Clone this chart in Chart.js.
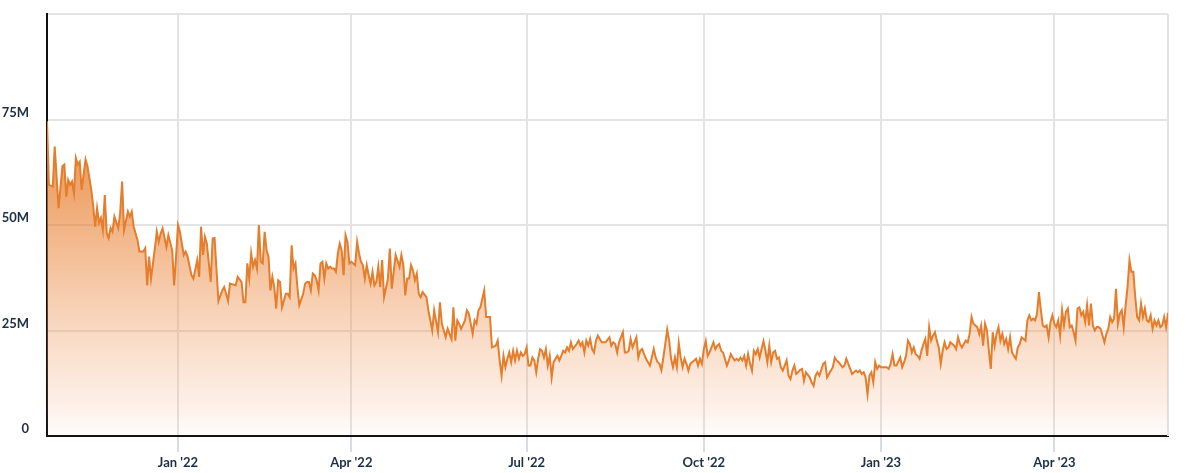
<!DOCTYPE html>
<html>
<head>
<meta charset="utf-8">
<title>Daily volume</title>
<script src="https://cdn.jsdelivr.net/npm/chart.js@4/dist/chart.umd.min.js"></script>
<style>
  html, body { margin: 0; padding: 0; background: #fff; }
  .chart-box { width: 1200px; height: 473px; position: relative; }
</style>
</head>
<body>
<div class="chart-box"><canvas id="volumeChart"></canvas></div>
<script>
// day offsets counted from startDate, values in millions
const startDate = '2022-01-01';
const dayOffsets = [
  -68, -67, -65, -64, -62, -60, -59, -58, -57, -56, -55, -54, -53, -52, -51, -50, -48, -47, -45, -44,
  -43, -42, -41, -40, -39, -38, -37, -36, -35, -34, -33, -31, -30, -29, -28, -26, -25, -24, -23, -21,
  -20, -18, -17, -16, -15, -14, -12, -11, -10, -9, -8, -6, -5, -3, -2, -1, 0, 1, 3, 4,
  5, 7, 8, 10, 11, 12, 13, 14, 15, 17, 18, 19, 21, 23, 24, 26, 27, 30, 31, 33,
  34, 35, 36, 37, 38, 39, 40, 41, 42, 43, 44, 45, 46, 47, 48, 49, 50, 51, 52, 53,
  54, 56, 57, 58, 59, 60, 61, 62, 63, 65, 66, 67, 68, 69, 70, 71, 72, 73, 74, 75,
  76, 77, 78, 79, 80, 81, 82, 83, 84, 85, 86, 87, 88, 89, 90, 91, 92, 93, 94, 95,
  96, 97, 98, 99, 100, 101, 102, 103, 104, 105, 106, 107, 109, 110, 111, 112, 113, 115, 116, 117,
  118, 119, 120, 121, 122, 123, 124, 125, 126, 127, 129, 130, 132, 133, 135, 136, 137, 139, 140, 142,
  143, 144, 145, 146, 147, 149, 150, 151, 153, 154, 155, 156, 157, 159, 160, 162, 163, 165, 166, 167,
  168, 169, 170, 171, 172, 173, 174, 175, 176, 177, 178, 179, 180, 181, 182, 183, 184, 185, 186, 187,
  188, 189, 190, 191, 192, 193, 194, 195, 197, 198, 199, 200, 201, 202, 203, 204, 205, 207, 208, 209,
  210, 211, 212, 213, 214, 215, 216, 217, 218, 219, 220, 222, 224, 225, 226, 227, 228, 229, 231, 232,
  233, 234, 235, 236, 237, 238, 239, 240, 241, 242, 243, 245, 246, 247, 248, 249, 250, 251, 252, 253,
  254, 255, 256, 257, 258, 259, 260, 261, 262, 263, 264, 265, 266, 268, 269, 270, 271, 272, 273, 274,
  275, 276, 277, 278, 279, 280, 281, 282, 283, 285, 286, 287, 288, 289, 290, 291, 292, 293, 294, 295,
  296, 297, 298, 299, 300, 301, 302, 303, 304, 305, 306, 307, 308, 309, 310, 311, 312, 313, 314, 316,
  317, 318, 319, 320, 321, 322, 323, 324, 325, 326, 328, 329, 330, 331, 332, 333, 335, 336, 337, 338,
  339, 340, 341, 342, 343, 345, 346, 347, 348, 349, 350, 352, 353, 354, 355, 356, 357, 358, 359, 360,
  361, 362, 363, 364, 365, 367, 368, 369, 370, 371, 372, 373, 375, 376, 377, 378, 379, 380, 381, 382,
  383, 384, 385, 386, 387, 388, 389, 390, 391, 392, 393, 394, 395, 396, 397, 398, 399, 400, 401, 403,
  404, 405, 406, 407, 408, 409, 410, 411, 412, 413, 414, 415, 416, 417, 418, 419, 420, 421, 422, 423,
  424, 425, 426, 427, 428, 429, 430, 431, 432, 433, 434, 435, 436, 437, 438, 439, 440, 441, 442, 443,
  444, 445, 446, 447, 448, 449, 450, 451, 452, 453, 454, 455, 456, 457, 458, 459, 460, 461, 462, 463,
  464, 465, 466, 467, 468, 469, 470, 471, 472, 473, 474, 475, 476, 477, 478, 479, 480, 481, 482, 483,
  484, 485, 486, 487, 488, 489, 490, 491, 492, 493, 494, 495, 496, 497, 498, 499, 500, 501, 502, 503,
  504, 505, 506, 507, 508, 509, 510, 511, 512, 513, 514
];
const valuesM = [
  74.6, 59.5, 59.1, 68.6, 54, 63.9, 64.3, 56.7, 60.7, 59.5, 60.3, 57.5, 65.9, 64.3, 65, 58.3, 65.5, 63.9, 58.3, 54.4,
  49.6, 54, 50.5, 51.7, 48.8, 57.1, 48.1, 46.9, 49.3, 48.4, 52, 49.3, 52.9, 60.3, 48.8, 53.2, 52, 53.2, 49.6, 46.4,
  43.7, 43.7, 44.5, 35.7, 42.5, 37.3, 44.4, 48.4, 46, 48, 49.2, 44.8, 47.6, 44, 35.7, 42.5, 50, 48.4, 42.9, 43.7,
  42.5, 38.1, 37.3, 41.7, 37.7, 49.6, 42.9, 47.2, 45.6, 36.5, 46.8, 46.9, 32, 34.5, 35.3, 32, 36.1, 35.7, 37.7, 36.5,
  31.7, 31.7, 40.9, 37.3, 43.3, 40.1, 41.7, 39.7, 50, 41.3, 40.9, 48.4, 44, 42.5, 34.5, 37.7, 35.3, 30.2, 36.9, 36.5,
  30.5, 33.7, 33.7, 32.9, 45.2, 39.7, 40.9, 35.3, 31, 33.7, 36.1, 36.5, 36.5, 34.5, 38.5, 38.1, 36.9, 34.5, 40.9, 41.3,
  37.3, 40.9, 39.7, 40.1, 39.7, 39.7, 38.9, 43.3, 45.6, 44, 38.1, 47.6, 46, 40.9, 41.3, 40.9, 40.5, 46, 43.3, 41.3,
  40.5, 37.3, 40.5, 38.1, 36.1, 38.9, 35.7, 36.5, 40.1, 35.3, 41.7, 32.9, 37.3, 44.4, 34.9, 38.9, 42.9, 40.1, 42.9, 40.5,
  33.3, 37.3, 37.3, 40.5, 39.3, 36.9, 38.5, 33.7, 32.9, 34.1, 32.9, 29.8, 25, 29.8, 24.6, 31.7, 26.6, 23.4, 25.4, 23,
  30.5, 22.6, 27.4, 26.6, 25.4, 27.4, 29.8, 29, 24.2, 27.4, 26.6, 29.8, 30.5, 34.5, 28.2, 28.2, 21, 21.4, 22.6, 17.9,
  14.3, 19, 16.3, 18.3, 19.8, 17.5, 20.2, 17.9, 20.2, 18.3, 19.8, 19, 19.4, 21, 16.7, 16.7, 18.6, 17.9, 15.1, 18.3,
  20.6, 20.2, 18.6, 20.6, 16.7, 19, 13.9, 17.5, 19, 17.9, 19, 20.2, 19.8, 21, 20.2, 22.2, 20.6, 21.8, 22.6, 21.4,
  22.2, 19.8, 22.6, 21.4, 23, 20.6, 19.8, 22.6, 23.8, 23, 22.2, 22.2, 23.4, 21.4, 22.2, 21.8, 19.8, 22.2, 24.6, 19.8,
  19.8, 20.2, 23, 21, 22.2, 23.4, 18.6, 20.2, 20.6, 19.4, 18.3, 16.7, 18.6, 20.6, 18.6, 17.5, 17.1, 15.6, 18.6, 21.8,
  25.2, 22.6, 18.3, 16.3, 18.6, 16.3, 22, 18.6, 16.3, 18.3, 17.1, 15.5, 17.1, 17.9, 18.3, 16.7, 18.3, 17.1, 20.6, 22.5,
  19, 19.8, 21, 22.2, 20.6, 21.4, 21.8, 20.2, 19.8, 16.7, 17.9, 19.4, 18.6, 17.9, 18.3, 17.9, 18.6, 17.9, 19, 16.7,
  19.4, 17.1, 15.5, 20.2, 19.4, 20.6, 18.6, 20.6, 22.5, 20.2, 17.5, 21.4, 17.5, 19.8, 20.2, 18.3, 18.6, 16.3, 15.5, 17.9,
  14.3, 13.5, 15.5, 16.7, 14.7, 15.1, 15.7, 15.9, 13.1, 15.1, 13.9, 12.7, 11.9, 14.3, 15.1, 14.3, 17.1, 17.5, 13.9, 14.7,
  15.5, 16.3, 18.6, 17.9, 17.5, 16.3, 16.7, 18.3, 17.1, 15.9, 14.7, 15.5, 15.1, 15.5, 14.7, 15.1, 13.9, 9.9, 14.3, 15.1,
  12.7, 17.5, 15.9, 16.7, 16.3, 16.3, 16.3, 15.9, 17.1, 19.4, 16.7, 16.7, 18.6, 16.3, 17.5, 19, 22.6, 21.8, 19.8, 21,
  19.4, 19, 18.3, 20.2, 21.8, 23, 19, 25.8, 22.6, 23.8, 24.6, 22.6, 21, 17.1, 20.2, 22.2, 20.6, 21, 22.2, 21.4,
  20.6, 23.4, 21.8, 21, 21.8, 22.6, 22.2, 24.2, 28.2, 26.6, 26.2, 25.8, 24.2, 26.2, 21.4, 26.6, 25, 20.2, 15.9, 24.6,
  21.4, 24.2, 25.8, 22.6, 24.2, 21.8, 23, 20.6, 23.4, 19.8, 19, 18.3, 21, 21.8, 23.4, 23, 22.6, 27.4, 28.6, 27.4,
  27.8, 27.4, 29, 34.1, 29.8, 26.2, 25.8, 26.2, 23.4, 27, 28.6, 26.6, 25.8, 27.4, 23.8, 29.8, 26.2, 29.4, 30.2, 25.8,
  26.2, 24.6, 22.6, 30.2, 30.5, 28.6, 29.4, 27, 31, 26.2, 31.4, 26.2, 25, 25.8, 25.8, 25.4, 23.8, 22.2, 24.2, 25.4,
  28.2, 27, 27.8, 34.9, 26.6, 29, 29.8, 25.8, 31, 35.3, 41.7, 38.9, 38.9, 32.9, 28.2, 27.4, 31.4, 28.2, 30.2, 27.4,
  27, 28.6, 25.4, 27.4, 26.2, 27.4, 25.8, 26.2, 28.2, 25.8, 29.2
];

const tickDates = ['2022-01-01', '2022-04-01', '2022-07-01', '2022-10-01', '2023-01-01', '2023-04-01'];
const tickLabels = ["Jan '22", "Apr '22", "Jul '22", "Oct '22", "Jan '23", "Apr '23"];
const yTickValues = [0, 25, 50, 75, 100];
const yTickLabels = ['0', '25M', '50M', '75M', ''];

const DAY = 86400000;
const toOffset = (iso) => Math.round((Date.parse(iso) - Date.parse(startDate)) / DAY);
const tickOffsets = tickDates.map(toOffset);

const points = dayOffsets.map((d, i) => ({ x: d, y: valuesM[i] }));

// borde derecho gris del área del gráfico
const rightBorder = {
    id: 'rightBorder',
    beforeDatasetsDraw(chart) {
        const { ctx, chartArea } = chart;
        ctx.save();
        ctx.strokeStyle = '#e2e2e2';
        ctx.lineWidth = 2;
        ctx.beginPath();
        ctx.moveTo(chartArea.right, chartArea.top);
        ctx.lineTo(chartArea.right, chartArea.bottom);
        ctx.stroke();
        ctx.restore();
    }
};

const ctx = document.getElementById('volumeChart');
new Chart(ctx, {
    type: 'line',
    data: {
        datasets: [{
            data: points,
            borderColor: '#e47d2c',
            borderWidth: 2,
            pointRadius: 0,
            tension: 0,
            fill: 'origin',
            backgroundColor: (c) => {
                const area = c.chart.chartArea;
                if (!area) return 'rgba(232,130,47,0.4)';
                const g = c.chart.ctx.createLinearGradient(0, area.top, 0, area.bottom);
                g.addColorStop(0, 'rgba(230,122,40,0.92)');
                g.addColorStop(0.25, 'rgba(230,122,40,0.82)');
                g.addColorStop(0.44, 'rgba(232,128,48,0.68)');
                g.addColorStop(0.68, 'rgba(236,140,70,0.42)');
                g.addColorStop(0.92, 'rgba(240,155,100,0.16)');
                g.addColorStop(1, 'rgba(240,160,110,0.03)');
                return g;
            }
        }]
    },
    options: {
        responsive: true,
        maintainAspectRatio: false,
        animation: false,
        layout: { padding: { top: 14, right: 32, left: 0, bottom: 0 } },
        plugins: { legend: { display: false }, tooltip: { enabled: false } },
        scales: {
            x: {
                type: 'linear',
                min: dayOffsets[0],
                max: dayOffsets[dayOffsets.length - 1],
                afterBuildTicks: (axis) => { axis.ticks = tickOffsets.map(v => ({ value: v })); },
                afterFit: (axis) => { axis.height = 37; axis.paddingLeft = 0; axis.paddingRight = 0; },
                grid: { color: '#e4e4e4', lineWidth: 2, tickLength: 16, tickColor: '#c9d2de', tickWidth: 1.5 },
                border: { color: '#111', width: 2 },
                ticks: {
                    autoSkip: false,
                    maxRotation: 0,
                    padding: 3,
                    color: '#1d2f45',
                    font: { family: 'Lato', size: 13, weight: 'bold' },
                    callback: (v) => tickLabels[tickOffsets.indexOf(v)]
                }
            },
            y: {
                min: 0,
                max: 100,
                afterBuildTicks: (axis) => { axis.ticks = yTickValues.map(v => ({ value: v })); },
                afterFit: (axis) => { axis.width = 47; axis.paddingTop = 0; axis.paddingBottom = 0; },
                grid: { color: '#e4e4e4', lineWidth: 2, drawTicks: false },
                border: { color: '#111', width: 2 },
                ticks: {
                    padding: 18,
                    labelOffset: -7,
                    color: '#1d2f45',
                    font: { family: 'Lato', size: 13, weight: 'bold' },
                    callback: (v) => yTickLabels[yTickValues.indexOf(v)]
                }
            }
        }
    },
    plugins: [rightBorder]
});
</script>
</body>
</html>
